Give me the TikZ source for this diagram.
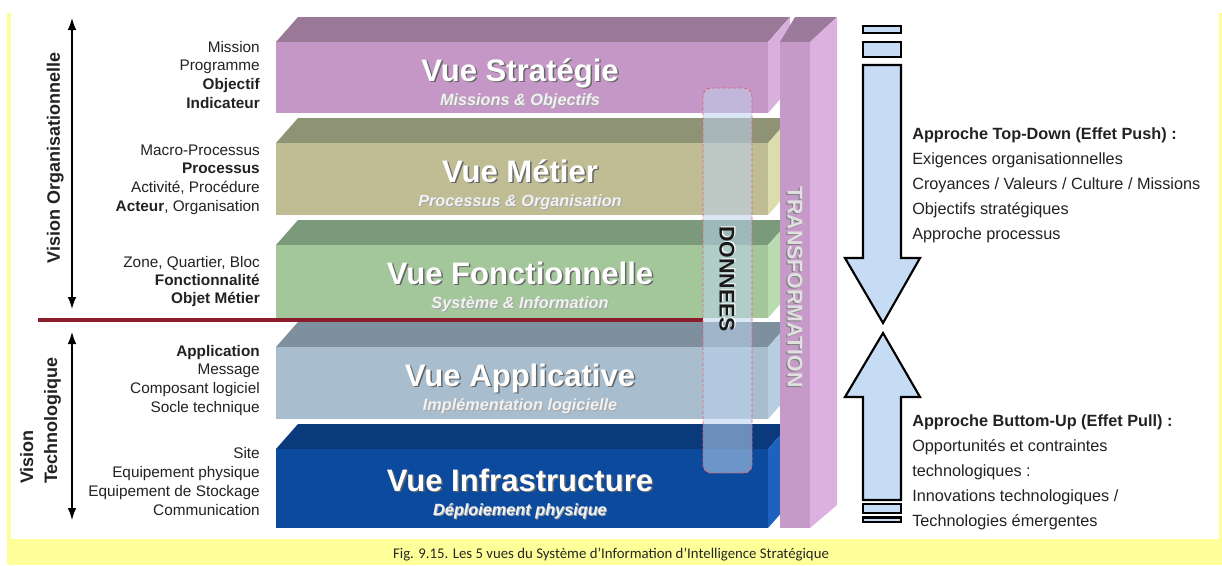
\documentclass[tikz,border=0pt]{standalone}
\usepackage{fontspec}
\setmainfont{Liberation Sans}
\newfontfamily\capfont{Carlito}
\usetikzlibrary{arrows.meta}
\definecolor{bgyel}{HTML}{FFFF99}
\definecolor{strF}{HTML}{C497C6}\definecolor{strT}{HTML}{9A7898}\definecolor{strS}{HTML}{D9AFDC}
\definecolor{metF}{HTML}{C0BD95}\definecolor{metT}{HTML}{8F9375}\definecolor{metS}{HTML}{DCDCAC}
\definecolor{fonF}{HTML}{A3C79B}\definecolor{fonT}{HTML}{7A9A7B}\definecolor{fonS}{HTML}{B8DCB0}
\definecolor{appF}{HTML}{A8BDCD}\definecolor{appT}{HTML}{7E8F9D}\definecolor{appS}{HTML}{B7CEE0}
\definecolor{infF}{HTML}{0B4A9C}\definecolor{infT}{HTML}{0A3A7C}\definecolor{infS}{HTML}{1C62BE}
\definecolor{colF}{HTML}{C69AC8}\definecolor{colT}{HTML}{9B7A9B}\definecolor{colS}{HTML}{DCB1E0}
\definecolor{donF}{HTML}{BDD3EE}\definecolor{donB}{HTML}{E06070}
\definecolor{redline}{HTML}{8B1C2C}\definecolor{arrF}{HTML}{C6DCF4}
\definecolor{txt}{HTML}{222222}

\newcommand\mylayer[9]{%
  \fill[#4] (276,#1) -- (298,{#1-25}) -- (790,{#1-25}) -- (768,#1) -- cycle;
  \fill[#5] (768,#1) -- (790,{#1-25}) -- (790,{#2-25}) -- (768,#2) -- cycle;
  \fill[#3] (276,#1) rectangle (768,#2);
  \node[ttlsh] (#8tsh) at (521.5,{#1+40.5+#9}) {#6};
  \node[ttl] (#8t) at (520,{#1+39+#9}) {#6};
  \node[subsh] (#8ssh) at (521,{#1+64+#9}) {#7};
  \node[sub] (#8s) at (520,{#1+63+#9}) {#7};
}

\begin{document}
\begin{tikzpicture}[x=0.75pt,y=-0.75pt,
  ttl/.style={font=\fontsize{23.3pt}{26pt}\selectfont\bfseries, text=white, anchor=base, inner sep=0pt},
  ttlsh/.style={ttl, text=black!60},
  sub/.style={font=\fontsize{12.2pt}{14pt}\selectfont\bfseries\itshape, text=white!95!black, anchor=base, inner sep=0pt},
  subsh/.style={sub, text=black!35},
  lbl/.style={font=\fontsize{11.5pt}{13pt}\selectfont, text=txt, anchor=base east, inner sep=0pt},
  rtxt/.style={font=\fontsize{12.2pt}{14pt}\selectfont, text=txt, anchor=base west, inner sep=0pt},
  vis/.style={font=\fontsize{13.5pt}{15pt}\selectfont\bfseries, text=txt, rotate=90, inner sep=0pt},
  vertxt/.style={font=\fontsize{16pt}{18pt}\selectfont\bfseries, rotate=-90, inner sep=0pt},
  varrow/.style={line width=1pt, {Latex[length=9pt,width=6.5pt]}-{Latex[length=9pt,width=6.5pt]}},
  barrow/.style={fill=arrF, draw=black, line width=1.6pt},
]
\useasboundingbox (0,0) rectangle (1222,565);
\fill[white] (0,0) rectangle (1222,565);
\fill[bgyel] (7,13) rectangle (11,565);
\fill[bgyel] (1219,13) rectangle (1222,565);
\fill[bgyel] (7,539) rectangle (1222,565);

% layers
\mylayer{42}{113}{strF}{strT}{strS}{Vue Stratégie}{Missions \& Objectifs}{str}{0}
\mylayer{143}{215}{metF}{metT}{metS}{Vue Métier}{Processus \& Organisation}{met}{0}
\mylayer{245}{318}{fonF}{fonT}{fonS}{Vue Fonctionnelle}{Système \& Information}{fon}{0}
\mylayer{347}{419}{appF}{appT}{appS}{Vue Applicative}{Implémentation logicielle}{app}{0}
\mylayer{449}{528}{infF}{infT}{infS}{Vue Infrastructure}{Déploiement physique}{inf}{3}

% transformation column
\fill[colT] (780,42) -- (795,17) -- (837,17) -- (810,42) -- cycle;
\fill[colS] (810,42) -- (837,17) -- (837,505) -- (810,528) -- cycle;
\fill[colF] (780,42) rectangle (810,528);
\node[vertxt, text=black!50] (trsh) at (793.8,288) {TRANSFORMATION};
\node[vertxt, text=white!88!black] (tr) at (795,287) {TRANSFORMATION};

% separator line
\coordinate (ra) at (38,320);
\coordinate (rb) at (703,320);
\draw[redline, line width=2.3pt] (ra) -- (rb);

% donnees box
\fill[donF, fill opacity=0.55, rounded corners=6pt] (703,88) rectangle (752,473);
\draw[donB, line width=0.7pt, dash pattern=on 2.5pt off 1.5pt, rounded corners=6pt] (703,88) rectangle (752,473);
\node[vertxt, text=white] (dosh) at (728.2,278) {DONNEES};
\node[vertxt, text=black!90] (do) at (727,279) {DONNEES};

% left labels
\node[lbl] (l1a) at (260,52) {Mission};
\node[lbl] (l1b) at (260,70.7) {Programme};
\node[lbl] (l1c) at (260,89.3) {\bfseries Objectif};
\node[lbl] (l1d) at (260,108) {\bfseries Indicateur};
\node[lbl] (l2a) at (260,155) {Macro-Processus};
\node[lbl] (l2b) at (260,173.7) {\bfseries Processus};
\node[lbl] (l2c) at (260,192.3) {Activité, Procédure};
\node[lbl] (l2d) at (260,211) {\textbf{Acteur}, Organisation};
\node[lbl] (l3a) at (260,267) {Zone, Quartier, Bloc};
\node[lbl] (l3b) at (260,285) {\bfseries Fonctionnalité};
\node[lbl] (l3c) at (260,303) {\bfseries Objet Métier};
\node[lbl] (l4a) at (260,356) {\bfseries Application};
\node[lbl] (l4b) at (260,374.7) {Message};
\node[lbl] (l4c) at (260,393.3) {Composant logiciel};
\node[lbl] (l4d) at (260,412) {Socle technique};
\node[lbl] (l5a) at (260,458) {Site};
\node[lbl] (l5b) at (260,477) {Equipement physique};
\node[lbl] (l5c) at (260,496) {Equipement de Stockage};
\node[lbl] (l5d) at (260,515) {Communication};

% left vision arrows
\coordinate (oa) at (72,18);
\coordinate (ob) at (72,309);
\draw[varrow] (oa) -- (ob);
\coordinate (ta) at (72,332);
\coordinate (tb) at (72,520);
\draw[varrow] (ta) -- (tb);
\node[vis, anchor=base] (vo) at (60,158) {Vision Organisationnelle};
\node[vis, anchor=base west] (vt1) at (33,484) {Vision};
\node[vis, anchor=base west] (vt2) at (57,484) {Technologique};

% right block arrows
\filldraw[barrow] (863,26) rectangle (901,33);
\filldraw[barrow] (863,42) rectangle (901,57);
\filldraw[barrow] (863,65) -- (901,65) -- (901,258) -- (920,258) -- (883,323) -- (845,258) -- (863,258) -- cycle;
\filldraw[barrow] (863,500) -- (901,500) -- (901,397) -- (920,397) -- (883,333) -- (845,397) -- (863,397) -- cycle;
\filldraw[barrow] (863,504) rectangle (901,513);
\filldraw[barrow] (863,517.5) rectangle (901,522);

% right texts
\node[rtxt] (r1a) at (912,139) {\bfseries Approche Top-Down (Effet Push) :};
\node[rtxt] (r1b) at (912,164) {Exigences organisationnelles};
\node[rtxt] (r1c) at (912,189) {Croyances / Valeurs / Culture / Missions};
\node[rtxt] (r1d) at (912,214) {Objectifs stratégiques};
\node[rtxt] (r1e) at (912,239) {Approche processus};
\node[rtxt] (r2a) at (912,426) {\bfseries Approche Buttom-Up (Effet Pull) :};
\node[rtxt] (r2b) at (912,451) {Opportunités et contraintes};
\node[rtxt] (r2c) at (912,476) {technologiques :};
\node[rtxt] (r2d) at (912,501) {Innovations technologiques /};
\node[rtxt] (r2e) at (912,526) {Technologies émergentes};

% caption
\node[font=\capfont\fontsize{11.1pt}{13pt}\selectfont, text=black!85, anchor=base, inner sep=0pt] (cap) at (611,558) {Fig. 9.15. Les 5 vues du Système d’Information d’Intelligence Stratégique};
\end{tikzpicture}
\end{document}
